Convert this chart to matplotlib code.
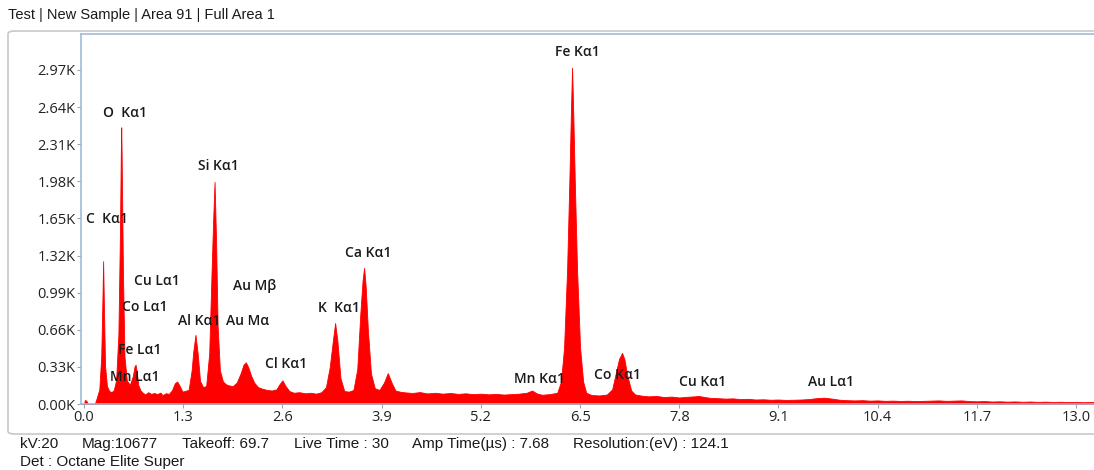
import matplotlib
matplotlib.use("Agg")
import matplotlib.pyplot as plt
from matplotlib.patches import FancyBboxPatch

# ---------------- data ----------------
energy_kev = [
    -0.04, 0.00, 0.01, 0.03, 0.05, 0.14, 0.16, 0.20, 0.225, 0.24, 0.25, 0.26, 0.275, 0.30,
    0.33, 0.36, 0.39, 0.42, 0.45, 0.47, 0.482, 0.487, 0.492, 0.51, 0.53, 0.56, 0.60, 0.64,
    0.66, 0.675, 0.69, 0.71, 0.74, 0.77, 0.80, 0.84, 0.88, 0.92, 0.96, 1.00, 1.03, 1.07,
    1.11, 1.15, 1.19, 1.22, 1.25, 1.29, 1.33, 1.37, 1.41, 1.43, 1.46, 1.49, 1.52, 1.56,
    1.60, 1.64, 1.67, 1.69, 1.71, 1.73, 1.75, 1.78, 1.82, 1.86, 1.90, 1.95, 2.00, 2.05,
    2.09, 2.12, 2.15, 2.19, 2.23, 2.28, 2.34, 2.40, 2.46, 2.52, 2.56, 2.60, 2.64, 2.69,
    2.75, 2.82, 2.90, 2.97, 3.04, 3.11, 3.17, 3.22, 3.26, 3.29, 3.32, 3.36, 3.41, 3.47,
    3.53, 3.58, 3.62, 3.65, 3.67, 3.69, 3.72, 3.76, 3.81, 3.87, 3.93, 3.98, 4.03, 4.08,
    4.15, 4.2, 4.3, 4.4, 4.5, 4.6, 4.7, 4.8, 4.9, 5.0, 5.1, 5.2, 5.3, 5.4, 5.5, 5.6, 5.7,
    5.8, 5.87, 5.93, 6.0, 6.1, 6.2, 6.25, 6.29, 6.33, 6.36, 6.38, 6.395, 6.41, 6.43, 6.46,
    6.50, 6.54, 6.58, 6.65, 6.75, 6.85, 6.92, 6.97, 7.01, 7.05, 7.08, 7.12, 7.17, 7.22,
    7.3, 7.4, 7.5, 7.6, 7.7, 7.8, 7.9, 8.0, 8.05, 8.1, 8.2, 8.3, 8.4, 8.5, 8.6, 8.7, 8.8,
    8.9, 9.0, 9.1, 9.2, 9.3, 9.4, 9.5, 9.6, 9.7, 9.8, 9.9, 10.0, 10.1, 10.2, 10.3, 10.4,
    10.5, 10.6, 10.7, 10.8, 10.9, 11.0, 11.1, 11.2, 11.3, 11.4, 11.5, 11.6, 11.7, 11.8,
    11.9, 12.0, 12.1, 12.2, 12.3, 12.4, 12.5, 12.6, 12.7, 12.8, 12.9, 13.0, 13.1, 13.2,
    13.25,
]
counts = [
    0, 0, 35, 30, 0, 0, 40, 130, 420, 900, 1270, 880, 340, 160,
    115, 105, 125, 210, 620, 1500, 2240, 2460, 2240, 1150, 420, 210, 170, 250,
    330, 350, 290, 170, 120, 100, 85, 105, 90, 98, 88, 102, 78, 96,
    90, 120, 185, 200, 165, 110, 118, 125, 300, 460, 615, 440, 205, 150,
    160, 450, 1150, 1600, 1975, 1450, 700, 300, 200, 175, 165, 160, 190, 270,
    350, 370, 330, 250, 190, 150, 135, 125, 120, 130, 175, 210, 160, 115,
    100, 105, 95, 100, 92, 105, 150, 330, 560, 720, 560, 230, 115, 110,
    125, 310, 800, 1100, 1210, 1050, 650, 270, 140, 125, 190, 275, 190, 120,
    108, 104, 98, 106, 94, 100, 92, 98, 90, 95, 88, 92, 86, 90, 84, 88, 92,
    100, 120, 95, 82, 88, 100, 200, 500, 1200, 2000, 2600, 2990, 2600, 2000, 1200,
    500, 200, 100, 80, 76, 84, 130, 280, 400, 455, 400, 250, 120, 85,
    75, 68, 72, 62, 66, 58, 64, 68, 72, 66, 55, 52, 48, 50, 44, 46, 40,
    42, 38, 40, 36, 38, 40, 44, 52, 56, 48, 38, 34, 32, 34, 30, 32,
    28, 30, 27, 29, 26, 28, 30, 32, 28, 30, 32, 26, 24, 26,
    22, 24, 21, 23, 20, 22, 19, 21, 18, 20, 17, 19, 16, 18,
    17,
]

peak_labels = ["O  K\u03b11", "C  K\u03b11", "Si K\u03b11", "Cu L\u03b11", "Co L\u03b11",
               "Au M\u03b2", "Al K\u03b11", "Au M\u03b1", "Fe L\u03b11", "Mn L\u03b11",
               "Cl K\u03b11", "K  K\u03b11", "Ca K\u03b11", "Fe K\u03b11", "Mn K\u03b11",
               "Co K\u03b11", "Cu K\u03b11", "Au L\u03b11"]
label_x = [0.25, 0.026, 1.496, 0.656, 0.499, 1.955, 1.234, 1.864, 0.446, 0.341,
           2.375, 3.071, 3.425, 6.168, 5.63, 6.68, 7.795, 9.488]
label_y = [2587, 1644, 2116, 1093, 862, 1049, 738, 738, 480, 240,
           356, 853, 1342, 3129, 222, 258, 196, 196]

x_ticks = [0.0, 1.3, 2.6, 3.9, 5.2, 6.5, 7.8, 9.1, 10.4, 11.7, 13.0]
y_ticks = [0, 330, 660, 990, 1320, 1650, 1980, 2310, 2640, 2970]
y_tick_labels = ["0.00K", "0.33K", "0.66K", "0.99K", "1.32K", "1.65K",
                 "1.98K", "2.31K", "2.64K", "2.97K"]

title_text = "Test | New Sample | Area 91 | Full Area 1"
footer_items = ["kV:20", "Mag:10677", "Takeoff: 69.7", "Live Time : 30",
                "Amp Time(\u00b5s) : 7.68", "Resolution:(eV) : 124.1"]
footer_line2 = "Det : Octane Elite Super"

# ---------------- figure ----------------
W, H = 1094, 470
fig = plt.figure(figsize=(W / 100, H / 100), dpi=100)
fig.patch.set_facecolor("white")

def px(x, y):
    return x / W, 1 - y / H

# outer frame (drawn behind the axes)
frame = FancyBboxPatch(px(8, 434), (1110 - 8) / W, (434 - 31) / H,
                       boxstyle="round,pad=0,rounding_size=0.006",
                       transform=fig.transFigure, facecolor="none",
                       edgecolor="#c8c8c8", linewidth=1.2, zorder=-5)
fig.patches.append(frame)

ax_left, ax_top, ax_bottom = 81, 34, 404
ax = fig.add_axes([ax_left / W, 1 - ax_bottom / H, (W - ax_left + 5) / W,
                   (ax_bottom - ax_top) / H])
ax.set_zorder(2)
ax.set_facecolor("none")

ax.fill_between(energy_kev, counts, 0, color="#ff0000", linewidth=0.6,
                edgecolor="#ff0000", zorder=2)

ax.set_xlim(-0.04, 13.30)
ax.set_ylim(0, 3290)

ax.set_xticks(x_ticks)
ax.set_xticklabels([f"{t:.1f}" for t in x_ticks])
ax.set_yticks(y_ticks)
ax.set_yticklabels(y_tick_labels)

spine_c = "#9dbcd8"
for side in ["left", "bottom", "top"]:
    ax.spines[side].set_color(spine_c)
    ax.spines[side].set_linewidth(1.2)
ax.spines["right"].set_visible(False)

ax.tick_params(axis="both", colors="#9aa8b6", length=3, width=0.8,
               labelcolor="#222222", labelsize=10.5, pad=1)
for lab in ax.get_xticklabels() + ax.get_yticklabels():
    lab.set_family("Open Sans")

for t, x, y in zip(peak_labels, label_x, label_y):
    ax.text(x, y, t, ha="left", va="center", fontsize=10, family="Open Sans",
            fontweight="semibold", color="#1a1a1a", zorder=3)

fig.text(*px(8, 15), title_text, ha="left", va="center", fontsize=10.5,
         family="Liberation Sans", color="#1a1a1a")

footer_x = [20, 82, 182, 294, 412, 573]
for x, t in zip(footer_x, footer_items):
    fig.text(*px(x, 444), t, ha="left", va="center", fontsize=11,
             family="Liberation Sans", color="#1a1a1a")
fig.text(*px(20, 462), footer_line2, ha="left", va="center", fontsize=11,
         family="Liberation Sans", color="#1a1a1a")

fig.savefig("out.png", dpi=100, facecolor="white")
